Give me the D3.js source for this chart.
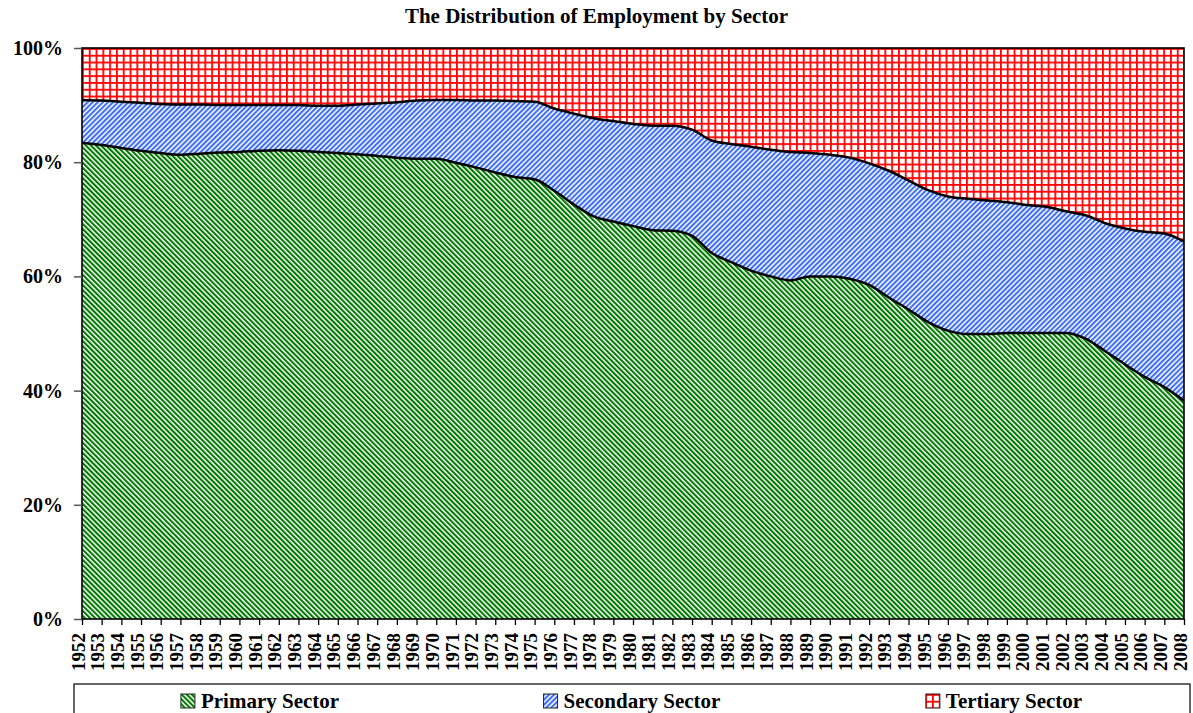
<!DOCTYPE html>
<html>
<head>
<meta charset="utf-8">
<script src="https://cdn.jsdelivr.net/npm/d3@7"></script>
<style>
  body { margin: 0; background: #fff; }
  text { font-family: "Liberation Serif", "Times New Roman", serif; font-weight: bold; fill: #000; }
</style>
</head>
<body>
<svg id="grafico"></svg>
<script>
let anos = ['1952', '1953', '1954', '1955', '1956', '1957', '1958', '1959', '1960', '1961',
    '1962', '1963', '1964', '1965', '1966', '1967', '1968', '1969', '1970', '1971',
    '1972', '1973', '1974', '1975', '1976', '1977', '1978', '1979', '1980', '1981',
    '1982', '1983', '1984', '1985', '1986', '1987', '1988', '1989', '1990', '1991',
    '1992', '1993', '1994', '1995', '1996', '1997', '1998', '1999', '2000', '2001',
    '2002', '2003', '2004', '2005', '2006', '2007', '2008'];

let primario = [83.4, 83.0, 82.5, 82.0, 81.6, 81.3, 81.5, 81.7, 81.8, 82.0,
    82.1, 82.0, 81.8, 81.6, 81.4, 81.1, 80.8, 80.6, 80.6, 79.9,
    79.1, 78.2, 77.4, 77.0, 75.0, 72.6, 70.5, 69.6, 68.8, 68.1,
    68.0, 67.1, 64.1, 62.5, 61.0, 60.0, 59.3, 60.0, 60.0, 59.6,
    58.5, 56.3, 54.2, 52.0, 50.5, 49.9, 49.9, 50.1, 50.1, 50.1,
    50.1, 49.1, 46.9, 44.6, 42.4, 40.6, 38.2];

let secundario = [7.5, 7.8, 8.1, 8.4, 8.6, 8.8, 8.6, 8.3, 8.2, 8.0,
    7.9, 8.0, 8.1, 8.3, 8.7, 9.2, 9.7, 10.2, 10.3, 11.0,
    11.7, 12.6, 13.3, 13.6, 14.4, 15.9, 17.2, 17.6, 17.9, 18.3,
    18.4, 18.6, 19.7, 20.7, 21.7, 22.2, 22.5, 21.6, 21.3, 21.2,
    21.3, 22.2, 22.6, 23.1, 23.5, 23.7, 23.4, 22.9, 22.4, 22.1,
    21.3, 21.6, 22.4, 23.8, 25.4, 26.9, 27.9];

let terciario = [9.1, 9.2, 9.4, 9.6, 9.8, 9.9, 9.9, 10.0, 10.0, 10.0,
    10.0, 10.0, 10.1, 10.1, 9.9, 9.7, 9.5, 9.2, 9.1, 9.1,
    9.2, 9.2, 9.3, 9.4, 10.6, 11.5, 12.3, 12.8, 13.3, 13.6,
    13.6, 14.3, 16.2, 16.8, 17.3, 17.8, 18.2, 18.4, 18.7, 19.2,
    20.2, 21.5, 23.2, 24.9, 26.0, 26.4, 26.7, 27.0, 27.5, 27.8,
    28.6, 29.3, 30.7, 31.6, 32.2, 32.5, 33.9];

let series = ['Primary Sector', 'Secondary Sector', 'Tertiary Sector'];
let ticksY = [0, 20, 40, 60, 80, 100];
let titulo = 'The Distribution of Employment by Sector';

let largura = 1193, altura = 713;
let margem = { esquerda: 82, direita: 9, superior: 48, inferior: 94 };

let svg = d3.select('#grafico')
    .attr('width', largura)
    .attr('height', altura);

let dados = anos.map((a, i) => ({
    ano: a,
    'Primary Sector': primario[i],
    'Secondary Sector': secundario[i],
    'Tertiary Sector': terciario[i]
}));

let pilha = d3.stack().keys(series)(dados);

let fnX = d3.scalePoint()
    .domain(anos)
    .range([margem.esquerda, largura - margem.direita]);

let fnY = d3.scaleLinear()
    .domain([0, 100])
    .range([altura - margem.inferior, margem.superior]);

// padroes de preenchimento
let defs = svg.append('defs');

function listras(id, cor, angulo) {
    let p = defs.append('pattern')
        .attr('id', id)
        .attr('patternUnits', 'userSpaceOnUse')
        .attr('width', 3.6)
        .attr('height', 10)
        .attr('patternTransform', 'rotate(' + angulo + ')');
    p.append('rect').attr('width', 3.6).attr('height', 10).attr('fill', '#fff');
    p.append('rect').attr('width', 2.1).attr('height', 10).attr('fill', cor);
}
listras('padPrimario', '#007800', -45);
listras('padSecundario', '#3f6ef2', 45);

let grade = defs.append('pattern')
    .attr('id', 'padTerciario')
    .attr('patternUnits', 'userSpaceOnUse')
    .attr('x', margem.esquerda)
    .attr('y', margem.superior)
    .attr('width', 6.8)
    .attr('height', 6.8);
grade.append('rect').attr('width', 6.8).attr('height', 6.8).attr('fill', '#fff');
grade.append('rect').attr('width', 1.8).attr('height', 6.8).attr('fill', '#ff0000');
grade.append('rect').attr('width', 6.8).attr('height', 1.8).attr('fill', '#ff0000');

let padroes = ['url(#padPrimario)', 'url(#padSecundario)', 'url(#padTerciario)'];

let area = d3.area()
    .x((d) => fnX(d.data.ano))
    .y0((d) => fnY(d[0]))
    .y1((d) => fnY(d[1]))
    .curve(d3.curveMonotoneX);

svg.append('g')
    .selectAll('path')
    .data(pilha)
    .enter()
    .append('path')
    .attr('d', area)
    .attr('fill', (d, i) => padroes[i]);

let linha = d3.line()
    .x((d) => fnX(d.data.ano))
    .y((d) => fnY(d[1]))
    .curve(d3.curveMonotoneX);

svg.append('g')
    .selectAll('path')
    .data(pilha.slice(0, 2))
    .enter()
    .append('path')
    .attr('d', linha)
    .attr('fill', 'none')
    .attr('stroke', '#000')
    .attr('stroke-width', 2.5);

// moldura
svg.append('rect')
    .attr('x', fnX.range()[0])
    .attr('y', fnY(100))
    .attr('width', fnX.range()[1] - fnX.range()[0])
    .attr('height', fnY(0) - fnY(100))
    .attr('fill', 'none')
    .attr('stroke', '#000')
    .attr('stroke-width', 1.6);

// eixo Y
let eixoY = svg.append('g')
    .attr('transform', 'translate(' + margem.esquerda + ',0)')
    .call(d3.axisLeft(fnY).tickValues(ticksY).tickSize(8).tickFormat((d) => d + '%'));
eixoY.select('.domain').remove();
eixoY.selectAll('line').attr('stroke', '#555').attr('stroke-width', 1.5);
eixoY.selectAll('text')
    .attr('x', -19)
    .style('font-size', '20px')
    .style('font-family', '"Liberation Serif", "Times New Roman", serif')
    .style('font-weight', 'bold');

// eixo X
let eixoX = svg.append('g')
    .attr('transform', 'translate(0,' + fnY(0) + ')')
    .call(d3.axisBottom(fnX).tickSize(6).tickFormat(''));
eixoX.select('.domain').remove();
eixoX.selectAll('line').attr('stroke', '#000').attr('stroke-width', 1.3);

svg.append('g')
    .selectAll('text')
    .data(anos)
    .enter()
    .append('text')
    .attr('transform', (d) => 'translate(' + fnX(d) + ',' + (fnY(0) + 14) + ') rotate(-90)')
    .attr('text-anchor', 'end')
    .attr('dy', '0.14em')
    .style('font-size', '19px')
    .text((d) => d);

// titulo
svg.append('text')
    .attr('x', largura / 2)
    .attr('y', 23)
    .attr('text-anchor', 'middle')
    .style('font-size', '21px')
    .text(titulo);

// legenda
let caixa = { x: 74, y: 684, largura: 1116, altura: 40 };
svg.append('rect')
    .attr('x', caixa.x)
    .attr('y', caixa.y)
    .attr('width', caixa.largura)
    .attr('height', caixa.altura)
    .attr('fill', '#fff')
    .attr('stroke', '#000')
    .attr('stroke-width', 1.2);

let fatia = caixa.largura / series.length;
series.forEach((s, i) => {
    let g = svg.append('g');
    let rotulo = g.append('text')
        .attr('y', 708)
        .style('font-size', '21px')
        .text(s);
    let w = rotulo.node().getComputedTextLength();
    let total = 14 + 6 + w;
    let x0 = caixa.x + fatia * i + (fatia - total) / 2;
    g.append('rect')
        .attr('x', x0)
        .attr('y', 694)
        .attr('width', 14)
        .attr('height', 14)
        .attr('fill', padroes[i])
        .attr('stroke', '#222')
        .attr('stroke-width', 1);
    rotulo.attr('x', x0 + 20);
});
</script>
</body>
</html>
